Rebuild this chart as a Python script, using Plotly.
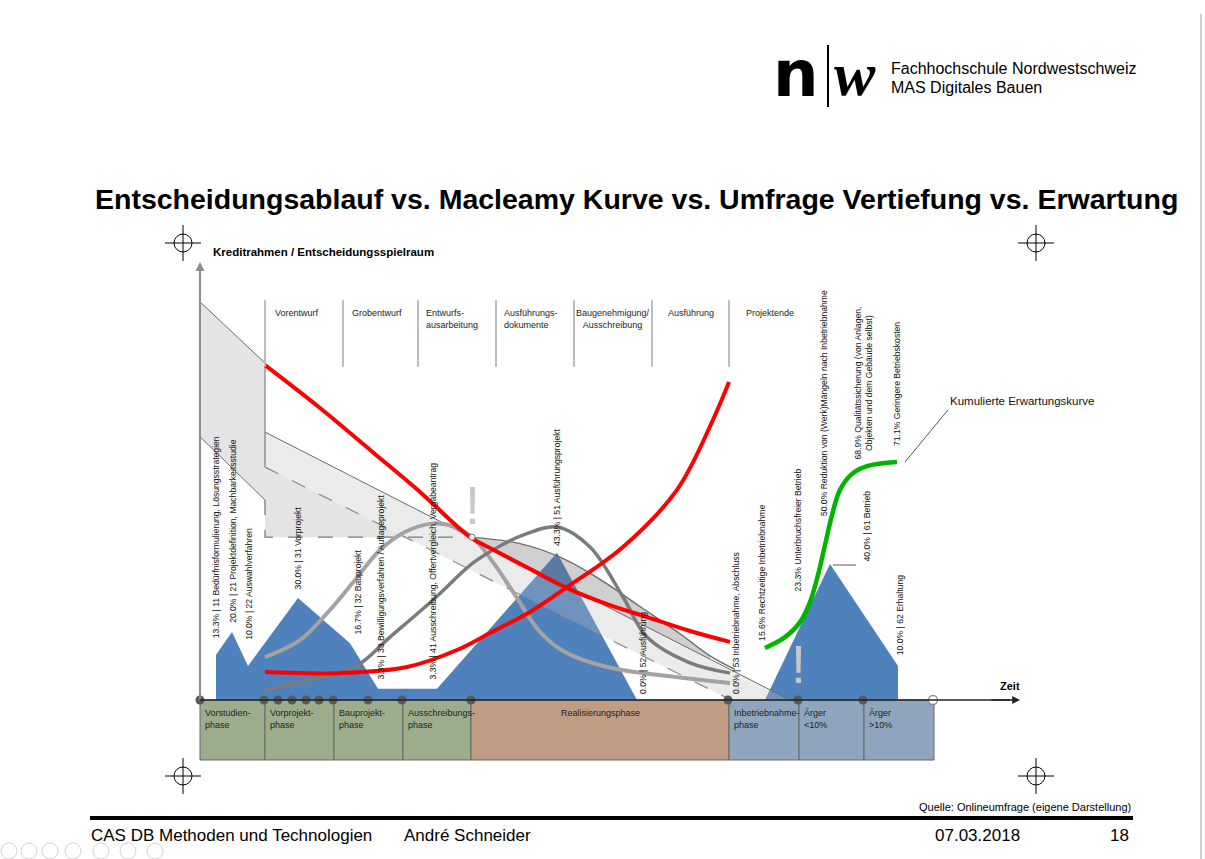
import plotly.graph_objects as go

W, H = 1205, 859
FONT = "Liberation Sans, Arial, sans-serif"

# ---------------- data (x: time units, y: percent / Entscheidungsspielraum) ----------------
blue_x = [1.6, 1.6, 3.2, 4.8, 9.8, 15.0, 17.8, 23.7, 35.7, 43.7, 56.5, 63.0, 69.8, 69.8]
blue_y = [0, 13.3, 20.0, 10.0, 30.0, 16.7, 3.3, 3.3, 43.3, 0, 0, 40.0, 10.0, 0]

red_down_x = [6.5, 12.0, 17.4, 22.0, 27.0, 29.0, 33.0, 36.7, 40.7, 44.7, 49.0, 53.0]
red_down_y = [98.5, 85.9, 72.6, 61.2, 47.9, 44.7, 38.5, 32.9, 28.2, 24.4, 20.3, 17.1]

red_up_x = [6.5, 14.0, 20.7, 25.7, 29.0, 33.0, 36.7, 42.3, 47.7, 51.3, 52.9]
red_up_y = [8.2, 7.9, 9.7, 14.7, 19.7, 25.9, 33.2, 45.0, 61.8, 82.4, 93.5]

light_x = [6.5, 10.0, 13.0, 15.5, 18.0, 20.5, 23.0, 25.5, 27.5, 29.5, 31.5, 34.0, 36.5, 40.7, 45.7, 53.0]
light_y = [12.6, 17.6, 26.5, 35.3, 44.1, 49.4, 51.8, 50.9, 47.1, 39.7, 30.9, 20.0, 14.1, 9.7, 7.4, 5.0]

dark_x = [6.5, 11.0, 15.5, 19.0, 23.3, 27.3, 30.0, 32.3, 35.7, 39.0, 42.3, 44.7, 49.0, 53.0]
dark_y = [2.9, 5.9, 9.7, 18.5, 29.4, 40.3, 45.3, 48.5, 50.9, 45.0, 30.3, 18.5, 10.9, 7.9]

green_x = [56.5, 58.5, 60.0, 61.0, 61.8, 62.5, 63.2, 64.0, 65.2, 66.7, 69.7]
green_y = [15.3, 18.5, 22.9, 28.8, 36.8, 45.6, 54.4, 61.8, 66.5, 68.8, 70.0]

bandA_x = [0, 6.5, 6.5, 20.5, 6.5, 6.5, 0]
bandA_y = [117.1, 99.1, 68.5, 47.9, 47.9, 58.8, 77.4]

bandB_x = [6.5, 59.0, 53.1, 6.5]
bandB_y = [78.8, 0, 0, 68.5]

lens_x = [27, 32, 36, 40, 44, 48, 51, 51, 48, 44, 40, 36, 32, 27]
lens_y = [47.9, 46.0, 42.0, 35.5, 27.5, 19.5, 13.0, 12.0, 16.5, 22.5, 28.5, 34.5, 40.5, 47.9]
lens_top_x = [27, 32, 36, 40, 44, 48, 51, 53.5]
lens_top_y = [47.9, 46.0, 42.0, 35.5, 27.5, 19.5, 13.0, 9.0]

phase_edges = [0, 6.5, 13.4, 20.3, 27.1, 52.9, 59.9, 66.4, 73.4]
phase_names = ["Vorstudien-<br>phase", "Vorprojekt-<br>phase", "Bauprojekt-<br>phase",
               "Ausschreibungs-<br>phase", "Realisierungsphase", "Inbetriebnahme-<br>phase",
               "Ärger<br>&lt;10%", "Ärger<br>&gt;10%"]
phase_colors = ["#9cad8e", "#9cad8e", "#9cad8e", "#9cad8e", "#c19c85", "#8fa5bd", "#8fa5bd", "#8fa5bd"]

milestones_x = [0, 6.4, 7.8, 9.2, 10.6, 11.9, 13.3, 16.8, 20.2, 27.1, 52.8, 59.8, 66.3]
end_x = [73.3]

top_sep_x = [6.5, 14.3, 21.8, 29.6, 37.4, 45.2, 52.9]
top_labels = ["Vorentwurf", "Grobentwurf", "Entwurfs-<br>ausarbeitung", "Ausführungs-<br>dokumente",
              "Baugenehmigung/<br>Ausschreibung", "Ausführung", "Projektende"]
top_label_x = [7.3, 15.0, 22.4, 30.2, 41.3, 49.1, 57.0]
top_label_anchor = ["left", "left", "left", "left", "center", "center", "center"]

survey_labels = [
    "13.3% | 11 Bedürfnisformulierung, Lösungsstrategien",
    "20.0% | 21 Projektdefinition, Machbarkeitsstudie",
    "10.0% | 22 Auswahlverfahren",
    "30.0% | 31 Vorprojekt",
    "16.7% | 32 Bauprojekt",
    "3.3% | 33 Bewilligungsverfahren / Auflageprojekt",
    "3.3% | 41 Ausschreibung, Offertvergleich, Vergabeantrag",
    "43.3% | 51 Ausführungsprojekt",
    "0.0% | 52 Ausführung",
    "0.0% | 53 Inbetriebnahme, Abschluss",
    "15.6% Rechtzeitige Inbetriebnahme",
    "23.3% Unterbruchsfreier Betrieb",
    "50.0% Reduktion von (Werk)Mängeln nach Inbetriebnahme",
    "68.9% Qualitätssicherung (von Anlagen,<br>Objekten und dem Gebäude selbst)",
    "40.0% | 61 Betrieb",
    "71.1% Geringere Betriebskosten",
    "10.0% | 62 Erhaltung",
]
label_x = [1.6, 3.3, 4.9, 9.8, 15.8, 18.1, 23.3, 35.7, 44.3, 53.6, 56.2, 59.8, 62.4, 66.3, 66.6, 69.7, 70.0]
label_y = [17.6, 22.1, 17.1, 31.8, 18.5, 5.3, 5.3, 44.7, 1.2, 1.2, 16.8, 31.2, 53.5, 70.0, 40.0, 74.1, 12.6]

# ---------------- axis mapping (page pixels) ----------------
X0_PX, XS = 200, 10.0
Y0_PX, YS = 700, 3.4
xr = [(0 - X0_PX) / XS, (W - X0_PX) / XS]
yr = [(Y0_PX - H) / YS, (Y0_PX - 0) / YS]


def pxp(v):
    return v / W


def pyp(v):
    return 1 - v / H


fig = go.Figure()

# blue survey area
fig.add_trace(go.Scatter(x=blue_x, y=blue_y, fill="toself", fillcolor="#4f81bd",
                         mode="lines", line=dict(width=0), hoverinfo="skip"))
# grey bands
fig.add_trace(go.Scatter(x=bandA_x, y=bandA_y, fill="toself", fillcolor="rgba(170,170,170,0.32)",
                         mode="lines", line=dict(width=0), hoverinfo="skip"))
fig.add_trace(go.Scatter(x=bandB_x, y=bandB_y, fill="toself", fillcolor="rgba(190,190,190,0.30)",
                         mode="lines", line=dict(width=0), hoverinfo="skip"))
fig.add_trace(go.Scatter(x=lens_x, y=lens_y, fill="toself", fillcolor="rgba(110,110,110,0.33)",
                         mode="lines", line=dict(width=0), hoverinfo="skip"))

# band edges
edge = dict(color="#6b6b6b", width=1)
dash_edge = dict(color="#7a7a7a", width=1.3, dash="longdash")
fig.add_trace(go.Scatter(x=[bandA_x[0], bandA_x[1], bandA_x[2]], y=[bandA_y[0], bandA_y[1], bandA_y[2]],
                         mode="lines", line=edge))
fig.add_trace(go.Scatter(x=[bandA_x[6], bandA_x[5]], y=[bandA_y[6], bandA_y[5]], mode="lines", line=edge))
fig.add_trace(go.Scatter(x=[bandA_x[5], bandA_x[4], lens_x[0]], y=[bandA_y[5], bandA_y[4], lens_y[0]],
                         mode="lines", line=dash_edge))
fig.add_trace(go.Scatter(x=[bandB_x[0], bandB_x[1]], y=[bandB_y[0], bandB_y[1]], mode="lines", line=edge))
fig.add_trace(go.Scatter(x=[bandB_x[3], bandB_x[2]], y=[bandB_y[3], bandB_y[2]], mode="lines",
                         line=dict(color="#8a8a8a", width=1.2, dash="longdash")))
fig.add_trace(go.Scatter(x=lens_top_x, y=lens_top_y, mode="lines",
                         line=dict(color="#6b6b6b", width=1.4, shape="spline")))

# grey curves
fig.add_trace(go.Scatter(x=light_x, y=light_y, mode="lines",
                         line=dict(color="#a3a3a3", width=4, shape="spline", smoothing=1.0)))
fig.add_trace(go.Scatter(x=dark_x, y=dark_y, mode="lines",
                         line=dict(color="#7b7b7b", width=3.5, shape="spline", smoothing=1.0)))
# red curves
fig.add_trace(go.Scatter(x=red_down_x, y=red_down_y, mode="lines",
                         line=dict(color="#ff0000", width=4, shape="spline", smoothing=1.0)))
fig.add_trace(go.Scatter(x=red_up_x, y=red_up_y, mode="lines",
                         line=dict(color="#ff0000", width=4, shape="spline", smoothing=1.0)))
# green curve
fig.add_trace(go.Scatter(x=green_x, y=green_y, mode="lines",
                         line=dict(color="#00b400", width=4.5, shape="spline", smoothing=1.0)))

# connector lines
fig.add_trace(go.Scatter(x=[70.5, 74.8], y=[70.0, 85.3], mode="lines", line=dict(color="#555555", width=1)))
fig.add_trace(go.Scatter(x=[63.3, 65.6], y=[39.7, 39.7], mode="lines", line=dict(color="#555555", width=1)))

shapes = []
# phase boxes
BOX_DEPTH = -17.65
for i, c in enumerate(phase_colors):
    shapes.append(dict(type="rect", xref="x", yref="y", x0=phase_edges[i], x1=phase_edges[i + 1],
                       y0=BOX_DEPTH, y1=0, fillcolor=c, line=dict(color="#666666", width=1), layer="below"))
# top separators
for xs in top_sep_x:
    shapes.append(dict(type="line", xref="x", yref="y", x0=xs, x1=xs, y0=98.0, y1=117.6,
                       line=dict(color="#bdbdbd", width=2)))
# axes
shapes.append(dict(type="line", xref="x", yref="y", x0=0, x1=0, y0=0, y1=126.5,
                   line=dict(color="#8c8c8c", width=2)))
shapes.append(dict(type="line", xref="x", yref="y", x0=0, x1=81.0, y0=0, y1=0,
                   line=dict(color="#222222", width=1.3)))
# crosshairs
for cx, cy in [(183, 243), (1036, 243), (183, 776), (1036, 776)]:
    shapes.append(dict(type="circle", xref="paper", yref="paper", x0=pxp(cx - 9), x1=pxp(cx + 9),
                       y0=pyp(cy + 9), y1=pyp(cy - 9), line=dict(color="#000000", width=1)))
    shapes.append(dict(type="line", xref="paper", yref="paper", x0=pxp(cx - 18), x1=pxp(cx + 18),
                       y0=pyp(cy), y1=pyp(cy), line=dict(color="#000000", width=1)))
    shapes.append(dict(type="line", xref="paper", yref="paper", x0=pxp(cx), x1=pxp(cx),
                       y0=pyp(cy - 18), y1=pyp(cy + 18), line=dict(color="#000000", width=1)))
# viewer icons (faint) bottom-left
for cx in [9, 29, 50, 73, 101, 128, 155]:
    shapes.append(dict(type="circle", xref="paper", yref="paper", x0=pxp(cx - 8), x1=pxp(cx + 8),
                       y0=pyp(859), y1=pyp(843), line=dict(color="#d4d4d4", width=1)))
# slide border (right)
shapes.append(dict(type="line", xref="paper", yref="paper", x0=pxp(1201), x1=pxp(1201),
                   y0=pyp(14), y1=pyp(859), line=dict(color="#a0a0a0", width=1)))
# footer rule
shapes.append(dict(type="line", xref="paper", yref="paper", x0=pxp(90), x1=pxp(1133),
                   y0=pyp(818), y1=pyp(818), line=dict(color="#000000", width=4)))
# logo divider
shapes.append(dict(type="line", xref="paper", yref="paper", x0=pxp(828), x1=pxp(828),
                   y0=pyp(45), y1=pyp(107), line=dict(color="#000000", width=2)))

# milestone points
fig.add_trace(go.Scatter(x=milestones_x, y=[0] * len(milestones_x), mode="markers",
                         marker=dict(color="#595959", size=9), cliponaxis=False))
fig.add_trace(go.Scatter(x=end_x, y=[0], mode="markers",
                         marker=dict(color="white", size=9, line=dict(color="#8c8c8c", width=1.3))))
fig.add_trace(go.Scatter(x=[27.2], y=[47.9], mode="markers",
                         marker=dict(color="white", size=6, line=dict(color="#777777", width=1))))

ann = []
# axis arrows
ann.append(dict(x=0, y=128.8, ax=0, ay=124.0, xref="x", yref="y", axref="x", ayref="y", text="",
                showarrow=True, arrowhead=2, arrowsize=1.2, arrowwidth=1.5, arrowcolor="#8c8c8c"))
ann.append(dict(x=82.0, y=0, ax=79.0, ay=0, xref="x", yref="y", axref="x", ayref="y", text="",
                showarrow=True, arrowhead=2, arrowsize=1.2, arrowwidth=1.3, arrowcolor="#222222"))
ann.append(dict(x=1.1, y=131.8, xref="x", yref="y", text="<b>Kreditrahmen / Entscheidungsspielraum</b>",
                showarrow=False, xanchor="left", yanchor="middle", font=dict(size=11.5, color="#000")))
ann.append(dict(x=81.0, y=4.1, xref="x", yref="y", text="<b>Zeit</b>", showarrow=False,
                xanchor="center", yanchor="middle", font=dict(size=11, color="#000")))

# phase labels
for i, name in enumerate(phase_names):
    if i == 4:
        ann.append(dict(x=(phase_edges[i] + phase_edges[i + 1]) / 2, y=-1.7, xref="x", yref="y", text=name,
                        showarrow=False, xanchor="center", yanchor="top", font=dict(size=9, color="#222")))
    else:
        ann.append(dict(x=phase_edges[i] + 0.3, y=-1.7, xref="x", yref="y", text=name, align="left",
                        showarrow=False, xanchor="left", yanchor="top", font=dict(size=9, color="#222")))

for t, xl, an in zip(top_labels, top_label_x, top_label_anchor):
    ann.append(dict(x=xl, y=116.0, xref="x", yref="y", text=t, showarrow=False, xanchor=an,
                    align=an if an != "center" else "center", yanchor="top",
                    font=dict(size=9, color="#222")))

for t, xl, yl in zip(survey_labels, label_x, label_y):
    ann.append(dict(x=xl, y=yl, xref="x", yref="y", text=t, textangle=-90, showarrow=False,
                    xanchor="center", yanchor="bottom", align="center", font=dict(size=8.6, color="#111")))

# exclamation marks
ann.append(dict(x=27.2, y=57.5, xref="x", yref="y", text="!", showarrow=False, xanchor="center",
                yanchor="middle", font=dict(size=54, color="#c8c8c8")))
ann.append(dict(x=59.8, y=10.5, xref="x", yref="y", text="!", showarrow=False, xanchor="center",
                yanchor="middle", font=dict(size=54, color="#c8c8c8")))

ann.append(dict(x=74.8, y=88.0, xref="x", yref="y", text="Kumulierte Erwartungskurve", showarrow=False,
                xanchor="left", yanchor="middle", font=dict(size=11.5, color="#111")))

# title, logo, footer
ann.append(dict(x=pxp(636), y=pyp(199), xref="paper", yref="paper",
                text="<b>Entscheidungsablauf vs. Macleamy Kurve vs. Umfrage Vertiefung vs. Erwartung</b>",
                showarrow=False, xanchor="center", yanchor="middle", font=dict(size=28.5, color="#000")))
ann.append(dict(x=pxp(796), y=pyp(74), xref="paper", yref="paper", text="<b>n</b>", showarrow=False,
                xanchor="center", yanchor="middle",
                font=dict(size=64, color="#000", family="DejaVu Sans, Liberation Sans, sans-serif")))
ann.append(dict(x=pxp(855), y=pyp(74), xref="paper", yref="paper", text="<b><i>w</i></b>", showarrow=False,
                xanchor="center", yanchor="middle",
                font=dict(size=62, color="#000", family="Liberation Serif, DejaVu Serif, serif")))
ann.append(dict(x=pxp(889), y=pyp(68), xref="paper", yref="paper", text="Fachhochschule Nordwestschweiz",
                showarrow=False, xanchor="left", yanchor="middle", font=dict(size=16, color="#000")))
ann.append(dict(x=pxp(889), y=pyp(87), xref="paper", yref="paper", text="MAS Digitales Bauen",
                showarrow=False, xanchor="left", yanchor="middle", font=dict(size=16, color="#000")))
ann.append(dict(x=pxp(1133), y=pyp(807), xref="paper", yref="paper",
                text="Quelle: Onlineumfrage (eigene Darstellung)", showarrow=False, xanchor="right",
                yanchor="middle", font=dict(size=11, color="#000")))
ann.append(dict(x=pxp(89), y=pyp(835), xref="paper", yref="paper", text="CAS DB Methoden und Technologien",
                showarrow=False, xanchor="left", yanchor="middle", font=dict(size=17, color="#000")))
ann.append(dict(x=pxp(402), y=pyp(835), xref="paper", yref="paper", text="André Schneider",
                showarrow=False, xanchor="left", yanchor="middle", font=dict(size=17, color="#000")))
ann.append(dict(x=pxp(1022), y=pyp(835), xref="paper", yref="paper", text="07.03.2018",
                showarrow=False, xanchor="right", yanchor="middle", font=dict(size=17, color="#000")))
ann.append(dict(x=pxp(1131), y=pyp(835), xref="paper", yref="paper", text="18",
                showarrow=False, xanchor="right", yanchor="middle", font=dict(size=17, color="#000")))

fig.update_layout(
    width=W, height=H, autosize=False,
    margin=dict(l=0, r=0, t=0, b=0),
    paper_bgcolor="white", plot_bgcolor="white",
    showlegend=False,
    font=dict(family=FONT),
    xaxis=dict(range=xr, visible=False, fixedrange=True),
    yaxis=dict(range=yr, visible=False, fixedrange=True),
    shapes=shapes,
    annotations=ann,
)

fig.write_html("out.html", config={"displayModeBar": False, "staticPlot": True},
               post_script="document.body.style.margin='0';document.body.style.overflow='hidden';")
